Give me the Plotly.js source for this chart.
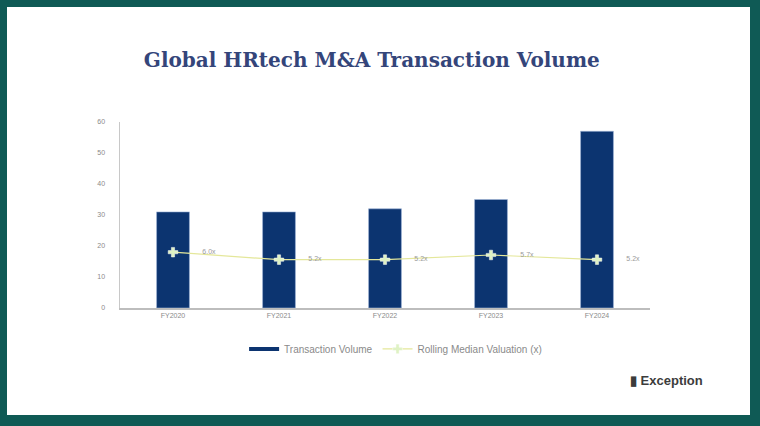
<!DOCTYPE html>
<html>
<head>
<meta charset="utf-8">
<script src="https://cdn.plot.ly/plotly-3.0.1.min.js"></script>
<style>
  html, body { margin: 0; padding: 0; background: #0f5a55; width: 760px; height: 426px; overflow: hidden; }
  #chart { position: absolute; left: 7px; top: 7px; width: 743px; height: 408px; background: #fff; }
</style>
</head>
<body>
<div id="chart"></div>
<script>
// values
const years = ["FY2020", "FY2021", "FY2022", "FY2023", "FY2024"];
const volume = [31, 31, 32, 35, 57];
const multiple = [6.0, 5.2, 5.2, 5.7, 5.2];
const multipleLabels = ["6.0x", "5.2x", "5.2x", "5.7x", "5.2x"];

const navy = "#0c3470";

const bars = {
    x: years,
    y: volume,
    type: "bar",
    name: "Transaction Volume",
    showlegend: false,
    marker: { color: navy, line: { color: "#9fb6d6", width: 0.6 } },
    hoverinfo: "x+y"
};

// legend key only: the picture shows the volume series as a flat dark bar
const volumeKey = {
    x: [null],
    y: [null],
    type: "scatter",
    mode: "lines",
    name: "Transaction Volume",
    line: { color: navy, width: 4 }
};

const line = {
    x: years,
    y: multiple,
    yaxis: "y2",
    type: "scatter",
    mode: "lines+markers+text",
    name: "Rolling Median Valuation (x)",
    line: { color: "#e4e79a", width: 1.2 },
    marker: { symbol: "cross", size: 8, color: "#dff2c4", line: { color: "#ffffff", width: 0.5 } },
    text: multipleLabels.map(t => "            " + t),
    textposition: "middle right",
    textfont: { family: "Liberation Sans, Arial", size: 7, color: "#9a9a9a" },
    cliponaxis: false
};

const layout = {
    width: 743,
    height: 408,
    margin: { l: 113, r: 100, t: 115, b: 107 },
    paper_bgcolor: "#ffffff",
    plot_bgcolor: "#ffffff",
    showlegend: true,
    bargap: 0.69,
    title: {
        text: "Global HRtech M&A Transaction Volume",
        font: { family: "DejaVu Serif, Liberation Serif, serif", size: 20, color: "#34457a", weight: 600 },
        x: 0.491, xanchor: "center",
        yref: "container", y: 0.87, yanchor: "middle"
    },
    xaxis: {
        type: "category",
        categoryorder: "array",
        categoryarray: years,
        showgrid: false,
        showline: true,
        linecolor: "#bdbdbd",
        linewidth: 1.5,
        ticks: "",
        tickfont: { family: "Liberation Sans, Arial", size: 7, color: "#8a8a8a" },
        fixedrange: true
    },
    yaxis: {
        range: [0, 60],
        dtick: 10,
        showgrid: false,
        zeroline: false,
        showline: true,
        linecolor: "#c8c8c8",
        linewidth: 1.5,
        ticks: "",
        ticklabelstandoff: 12,
        tickfont: { family: "Liberation Sans, Arial", size: 7, color: "#8a8a8a" },
        fixedrange: true
    },
    yaxis2: {
        overlaying: "y",
        side: "right",
        range: [0, 20],
        visible: false,
        fixedrange: true
    },
    legend: {
        orientation: "h",
        x: 0.52, xanchor: "center",
        y: -0.22, yanchor: "middle",
        font: { family: "Liberation Sans, Arial", size: 10, color: "#8a8a8a" },
        itemwidth: 30
    },
    annotations: [
        {
            xref: "paper", yref: "paper",
            x: 1.032, y: -0.39,
            xanchor: "center", yanchor: "middle",
            text: "<b>▮ Exception</b>",
            showarrow: false,
            font: { family: "Liberation Sans, Arial", size: 13, color: "#3c3c3c" }
        }
    ]
};

Plotly.newPlot("chart", [volumeKey, bars, line], layout, { displayModeBar: false, staticPlot: true });
</script>
</body>
</html>
